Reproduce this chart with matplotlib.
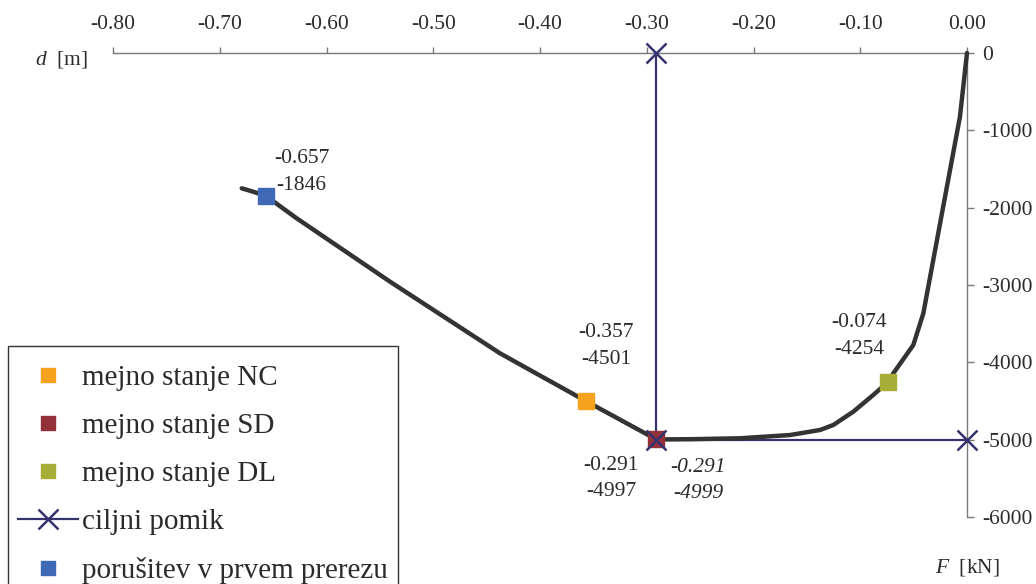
import matplotlib
matplotlib.use("Agg")
import matplotlib.pyplot as plt
from matplotlib.lines import Line2D
from matplotlib.patches import Rectangle

plt.rcParams['font.family'] = ['Liberation Serif', 'DejaVu Serif']
plt.rcParams['mathtext.fontset'] = 'custom'
plt.rcParams['mathtext.it'] = 'Liberation Serif:italic'
plt.rcParams['mathtext.rm'] = 'Liberation Serif'

# pushover curve (displacement d [m], force F [kN])
curve_d = [0.0, -0.0066, -0.0409, -0.0503, -0.069, -0.074, -0.0878, -0.1065, -0.1252,
           -0.1377, -0.1658, -0.2127, -0.2595, -0.291, -0.357, -0.4375,
           -0.5405, -0.6279, -0.657, -0.6686, -0.6794]
curve_F = [0, -824, -3366, -3776, -4142, -4254, -4422, -4638, -4810,
           -4875, -4940, -4982, -4994, -4997, -4501, -3883,
           -2957, -2138, -1846, -1794, -1750]

# limit states
nc_d, nc_F = -0.357, -4501
sd_d, sd_F = -0.291, -4997
dl_d, dl_F = -0.074, -4254
fail_d, fail_F = -0.657, -1846

# target displacement
target_d = [-0.291, -0.291, 0.0]
target_F = [0, -4999, -4999]

x_ticks = [-0.80, -0.70, -0.60, -0.50, -0.40, -0.30, -0.20, -0.10, 0.00]
y_ticks = [0, -1000, -2000, -3000, -4000, -5000, -6000]

c_curve = '#333333'
c_target = '#34336E'
c_nc = '#F5A31F'
c_sd = '#93303A'
c_dl = '#A7AE36'
c_fail = '#3F69B5'
c_text = '#2b2b2b'
c_spine = '#7a7a7a'

fig = plt.figure(figsize=(10.36, 5.84), dpi=100)
ax = fig.add_axes([113/1036, 1-517/584, (967-113)/1036, (517-53)/584])

ax.plot(target_d, target_F, color=c_target, lw=1.6, zorder=2, clip_on=False)
ax.plot(curve_d, curve_F, color=c_curve, lw=3.2, zorder=3, solid_capstyle='round',
        solid_joinstyle='round', clip_on=False)
ms = 11
ax.plot([nc_d], [nc_F], 's', color=c_nc, ms=ms, zorder=4)
ax.plot([sd_d], [sd_F], 's', color=c_sd, ms=ms, zorder=4)
ax.plot([dl_d], [dl_F], 's', color=c_dl, ms=ms, zorder=4)
ax.plot([fail_d], [fail_F], 's', color=c_fail, ms=ms, zorder=4)
ax.plot(target_d, target_F, 'x', color=c_target, ms=15, mew=1.8, zorder=5,
        linestyle='none', clip_on=False)

ax.set_xlim(-0.80, 0.0)
ax.set_ylim(-6000, 0)
ax.spines['left'].set_visible(False)
ax.spines['bottom'].set_visible(False)
for s in ('top', 'right'):
    ax.spines[s].set_color(c_spine)
    ax.spines[s].set_linewidth(1.0)
ax.xaxis.set_ticks_position('top')
ax.yaxis.set_ticks_position('right')
ax.set_xticks(x_ticks)
ax.set_xticklabels([f"{v:.2f}" for v in x_ticks])
ax.set_yticks(y_ticks)
ax.set_yticklabels([f"{v:d}" for v in y_ticks])
ax.tick_params(axis='x', direction='out', length=4, width=1, color=c_spine,
               labelsize=15.5, labelcolor=c_text, pad=10)
ax.tick_params(axis='y', direction='out', length=5, width=1, color=c_spine,
               labelsize=15.5, labelcolor=c_text, pad=6)
ax.set_facecolor('none')

fig.text(35/1036, 1-60/584, r"$\it{d}$  [m]", fontsize=15.5, color=c_text, va='center', ha='left')
fig.text(935/1036, 1-568/584, r"$\it{F}$  [kN]", fontsize=15.5, color=c_text, va='center', ha='left')

def lab(x, y, dx, dy, txt, italic=False):
    ax.annotate(txt, xy=(x, y), xytext=(dx, dy), textcoords='offset pixels',
                ha='center', va='center', fontsize=15.5, color=c_text,
                linespacing=1.55, style='italic' if italic else 'normal', zorder=6)

lab(fail_d, fail_F, 36, 24, f"{fail_d:.3f}\n{fail_F:d}")
lab(nc_d, nc_F, 20, 55, f"{nc_d:.3f}\n{nc_F:d}")
lab(dl_d, dl_F, -29, 46, f"{dl_d:.3f}\n{dl_F:d}")
lab(sd_d, sd_F, -45, -39, f"{sd_d:.3f}\n{sd_F:d}")
lab(target_d[1], target_F[1], 42, -41, f"{target_d[1]:.3f}\n{target_F[1]:d}", italic=True)

# legend frame (extends below the figure edge, as in the reference)
fig.patches.append(Rectangle((8/1036, -0.05), (398-8)/1036, (1-346/584) + 0.05,
                             transform=fig.transFigure, fill=True, facecolor='white',
                             edgecolor='#333333', lw=1.0, zorder=5))

handles = [
    Line2D([], [], marker='s', color=c_nc, ls='none', ms=10),
    Line2D([], [], marker='s', color=c_sd, ls='none', ms=10),
    Line2D([], [], marker='s', color=c_dl, ls='none', ms=10),
    Line2D([], [], marker='x', color=c_target, lw=1.6, ms=14, mew=1.8),
    Line2D([], [], marker='s', color=c_fail, ls='none', ms=10),
]
labels = ['mejno stanje NC', 'mejno stanje SD', 'mejno stanje DL', 'ciljni pomik',
          'porušitev v prvem prerezu']
leg = fig.legend(handles, labels, loc='upper left', bbox_to_anchor=(9/1036, 1-356/584),
                 frameon=False, fontsize=21,
                 handlelength=2.05, handletextpad=0.15, borderpad=0.3, labelspacing=0.74,
                 borderaxespad=0, labelcolor=c_text)
leg.set_zorder(6)

fig.savefig('out.png', dpi=100)
